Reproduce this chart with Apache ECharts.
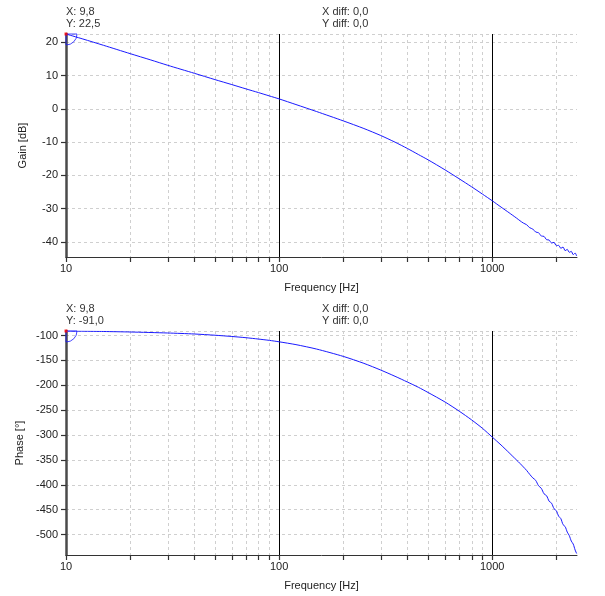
<!DOCTYPE html>
<html>
<head>
<meta charset="utf-8">
<script src="https://cdn.jsdelivr.net/npm/echarts@6/dist/echarts.min.js"></script>
<style>
html,body{margin:0;padding:0;background:#fff;}
#main{width:605px;height:596px;}
</style>
</head>
<body>
<div id="main"></div>
<script>
// ---- data ----
const gainFreq = [10,12,15,20,25,30,40,50,60,70,80,90,100,120,150,200,250,300,350,400,450,500,600,700,800,900,1000,1100,1200,1300,1350,1400,1450,1500,1550,1600,1650,1700,1750,1800,1850,1900,1950,2000,2050,2100,2150,2200,2250,2300,2350,2400,2450,2490];
const gainDb   = [22.5,21.0,19.1,16.6,14.7,13.1,10.7,8.8,7.3,6.0,4.9,3.9,3.0,1.3,-0.8,-3.6,-5.9,-8.0,-10.0,-11.9,-13.7,-15.3,-18.3,-21.0,-23.4,-25.6,-27.6,-29.5,-31.2,-32.8,-33.6,-34.3,-34.8,-35.7,-36.1,-37.0,-37.2,-38.2,-38.3,-39.3,-39.4,-40.3,-40.1,-41.1,-41.0,-41.9,-41.5,-42.6,-42.2,-43.1,-42.8,-43.8,-43.3,-44.2];
const phaseFreq = [10,15,20,30,40,50,60,70,80,90,100,120,150,200,250,300,350,400,450,500,600,700,800,900,1000,1100,1200,1250,1300,1350,1400,1450,1500,1550,1600,1650,1700,1750,1800,1850,1900,1950,2000,2050,2100,2150,2200,2250,2300,2350,2400,2450,2490];
const phaseDeg  = [-91.0,-92,-93,-95,-97,-99.5,-102,-104.5,-107.2,-109.8,-112.7,-118.4,-127.3,-142,-156,-169.5,-182,-193.5,-204,-214.5,-233.5,-252,-269.5,-286.5,-304,-320,-335.5,-343,-350,-357,-364,-371,-379,-386,-391,-402,-407,-418,-422,-433,-437,-448,-452,-463,-468,-480,-484,-495,-502,-513,-519,-531,-538];
const minorFreqs  = [20,30,40,50,60,70,80,90,200,300,400,500,600,700,800,900,2000];
const decadeFreqs = [10,100,1000];
const xRange     = [10, 2500];
const gainRange  = [-44.5, 22.5];
const phaseRange = [-541, -91];
const gainTicks  = [-40,-30,-20,-10,0,10,20];
const phaseTicks = [-500,-450,-400,-350,-300,-250,-200,-150,-100];
const topCursor    = ['X: 9,8', 'Y: 22,5'];
const bottomCursor = ['X: 9,8', 'Y: -91,0'];
const diffText     = ['X diff: 0,0', 'Y diff: 0,0'];

// ---- chart ----
const FONT = 'Liberation Sans, Arial, sans-serif';
const TXT = '#222';
const chart = echarts.init(document.getElementById('main'), null, {renderer: 'canvas'});

function pairs(xs, ys){ return xs.map((x,i)=>[x, ys[i]]); }

function decorData(yMin){
  const d = [];
  minorFreqs.forEach(f => d.push([f, yMin, 0]));
  decadeFreqs.forEach(f => d.push([f, yMin, 1]));
  return d;
}
function renderDecor(params, api){
  const f = api.value(0), yMin = api.value(1), major = api.value(2);
  const cs = params.coordSys;
  const p = api.coord([f, yMin]);
  const x = Math.round(p[0]) + 0.5;
  const bottom = cs.y + cs.height;
  const children = [];
  if (major && f === xRange[0]) {
    const yt = Math.round(cs.y) + 0.5;
    children.push({type:'line', shape:{x1:cs.x, y1:yt, x2:cs.x + cs.width, y2:yt},
      style:{stroke:'#cfcfcf', lineWidth:1, lineDash:[3,3]}});
  } else {
    children.push({type:'line', shape:{x1:x, y1:cs.y, x2:x, y2:bottom},
      style: major ? {stroke:'#000', lineWidth:1} : {stroke:'#cfcfcf', lineWidth:1, lineDash:[3,3]}});
  }
  children.push({type:'line', shape:{x1:x, y1:bottom, x2:x, y2:bottom+5}, style:{stroke:'#333', lineWidth:1.2}});
  return {type:'group', children};
}

function xAxisCfg(gi){
  return {
    gridIndex: gi, type: 'log', logBase: 10, min: xRange[0], max: xRange[1],
    name: 'Frequency [Hz]', nameLocation: 'middle', nameGap: 25,
    nameTextStyle: {fontFamily: FONT, fontSize: 11, color: TXT},
    axisLine: {onZero: false, lineStyle: {color: '#333', width: 1}},
    axisTick: {show: false}, splitLine: {show: false}, minorTick:{show:false},
    axisLabel: {fontFamily: FONT, fontSize: 11, color: TXT, margin: 6, showMaxLabel: false,
      formatter: v => decadeFreqs.indexOf(Math.round(v)) >= 0 ? String(Math.round(v)) : ''}
  };
}
function yAxisCfg(gi, name, range, ticks, splitNumber){
  return {
    gridIndex: gi, type: 'value', min: range[0], max: range[1], splitNumber: splitNumber,
    name: name, nameLocation: 'middle', nameGap: 38,
    nameTextStyle: {fontFamily: FONT, fontSize: 11, color: TXT},
    axisLine: {show: true, onZero: false, lineStyle: {color: '#4a4a4a', width: 2.5}},
    axisTick: {show: true, length: 5, lineStyle: {color: '#333', width: 1.2}, customValues: ticks},
    axisLabel: {fontFamily: FONT, fontSize: 11, color: TXT, margin: 8, customValues: ticks},
    splitLine: {show: true, lineStyle: {color: '#cfcfcf', type: [3,3], width: 1}}
  };
}
function cursorSeries(gi, pt){
  return [{
    type: 'scatter', xAxisIndex: gi, yAxisIndex: gi, data: [pt], silent: true, z: 5,
    symbol: 'path://M0,0 L10,0 A10,10 0 0,1 0,10 Z', symbolSize: 11, symbolOffset: [5.5, 5.5],
    itemStyle: {color: 'rgba(0,0,0,0)', borderColor: '#1a1aff', borderWidth: 1}, clip: false
  },{
    type: 'scatter', xAxisIndex: gi, yAxisIndex: gi, data: [pt], silent: true, z: 6,
    symbol: 'rect', symbolSize: 3, itemStyle: {color: '#ff0000'}, clip: false
  }];
}
function texts(lines, left, top){
  return lines.map((t,i)=>({type:'text', left: left, top: top + i*12,
    style:{text: t, font: '11px ' + FONT, fill: '#333'}}));
}

const option = {
  animation: false,
  backgroundColor: '#fff',
  grid: [
    {left: 66, right: 28, top: 34, height: 223},
    {left: 66, right: 28, top: 331, height: 224}
  ],
  xAxis: [xAxisCfg(0), xAxisCfg(1)],
  yAxis: [
    yAxisCfg(0, 'Gain [dB]', gainRange, gainTicks, 5),
    yAxisCfg(1, 'Phase [°]', phaseRange, phaseTicks, 9)
  ],
  graphic: [].concat(
    texts(topCursor, 66, 6), texts(diffText, 322, 6),
    texts(bottomCursor, 66, 303), texts(diffText, 322, 303)
  ),
  series: [
    {type:'custom', xAxisIndex:0, yAxisIndex:0, data: decorData(gainRange[0]), renderItem: renderDecor, silent:true, clip:false, z:1},
    {type:'custom', xAxisIndex:1, yAxisIndex:1, data: decorData(phaseRange[0]), renderItem: renderDecor, silent:true, clip:false, z:1},
    {type:'line', xAxisIndex:0, yAxisIndex:0, data: pairs(gainFreq, gainDb), showSymbol:false, symbol:'none', smooth:0.25,
      lineStyle:{color:'#1a1aff', width:1}, z:3, silent:true},
    {type:'line', xAxisIndex:1, yAxisIndex:1, data: pairs(phaseFreq, phaseDeg), showSymbol:false, symbol:'none', smooth:0.25,
      lineStyle:{color:'#1a1aff', width:1}, z:3, silent:true}
  ].concat(cursorSeries(0, [gainFreq[0], gainDb[0]]), cursorSeries(1, [phaseFreq[0], phaseDeg[0]]))
};
chart.setOption(option);
</script>
</body>
</html>
